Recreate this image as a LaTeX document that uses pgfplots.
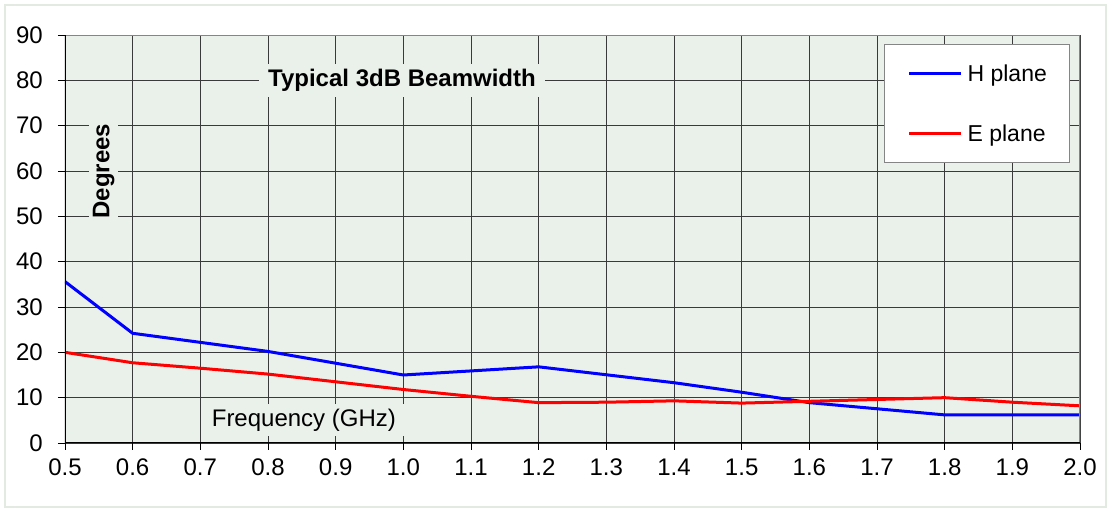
\documentclass[border=0pt]{standalone}
\usepackage{fontspec}
\setmainfont{Liberation Sans}
\usepackage{pgfplots}
\pgfplotsset{compat=1.18}
\definecolor{plotbg}{HTML}{EAF0EA}
\definecolor{borderc}{HTML}{E2EAE2}
\definecolor{gridc}{HTML}{3A3A3A}
\definecolor{frameg}{HTML}{858585}
\newcommand{\tfont}{\fontsize{24}{28}\selectfont}
\begin{document}
\begin{tikzpicture}
\useasboundingbox (-65pt,-68pt) rectangle (1047pt,443pt);
\draw[color=borderc, line width=2pt] (-60pt,-64pt) rectangle (1041pt,438pt);
\begin{axis}[
  scale only axis,
  width=1015pt, height=408pt,
  xmin=0.5, xmax=2.0, ymin=0, ymax=90,
  xtick={0.5,0.6,0.7,0.8,0.9,1.0,1.1,1.2,1.3,1.4,1.5,1.6,1.7,1.8,1.9,2.0},
  xticklabels={0.5,0.6,0.7,0.8,0.9,1.0,1.1,1.2,1.3,1.4,1.5,1.6,1.7,1.8,1.9,2.0},
  ytick={0,10,20,30,40,50,60,70,80,90},
  /pgf/number format/assume math mode=true,
  yticklabel style={anchor=east, inner sep=0pt, xshift=-15pt, font=\tfont},
  xticklabel style={anchor=north, inner sep=0pt, yshift=-9pt, font=\tfont},
  tick align=outside,
  tick pos=left,
  major tick length=7pt,
  major tick style={black, line width=0.8pt},
  grid=major,
  major grid style={color=gridc, line width=0.8pt},
  axis line style={draw=none},
  axis background/.style={fill=plotbg},
  legend style={at={(rel axis cs:0.8069,0.978)}, anchor=north west,
    draw=frameg, line width=1.2pt, fill=white,
    inner xsep=23pt, inner ysep=20pt, row sep=42pt, column sep=5pt,
    nodes={inner sep=0pt, anchor=west, text height=17.25pt, text depth=0.75pt,
      font=\fontsize{23}{27}\selectfont}},
  legend cell align=left,
  legend image code/.code={\draw[#1, line width=3pt] (0pt,0pt) -- (52pt,0pt);},
]
\addplot[blue, line width=3pt] coordinates {
  (0.5,35.6) (0.6,24.2) (0.8,20.2) (1.0,15.0) (1.2,16.8) (1.4,13.3)
  (1.5,11.2) (1.6,8.9) (1.8,6.2) (2.0,6.2)};
\addlegendentry{H plane}
\addplot[red, line width=3pt] coordinates {
  (0.5,20.0) (0.6,17.7) (0.7,16.5) (0.8,15.2) (0.9,13.5) (1.0,11.8)
  (1.1,10.3) (1.2,8.9) (1.3,9.0) (1.4,9.3) (1.5,8.8) (1.6,9.2)
  (1.7,9.6) (1.8,10.0) (1.9,9.0) (2.0,8.2)};
\addlegendentry{E plane}
\draw[frameg, line width=2.5pt] (rel axis cs:0,1) -- (rel axis cs:1,1) -- (rel axis cs:1,0);
\draw[black, line width=1.5pt] (rel axis cs:0,1) -- (rel axis cs:0,0) -- (rel axis cs:1,0);
\node[fill=plotbg, inner xsep=9pt, inner ysep=5pt, font=\bfseries\tfont]
  at (axis cs:0.998,80) {Typical 3dB Beamwidth};
\node[fill=plotbg, inner xsep=5pt, inner ysep=4pt, rotate=90, font=\bfseries\tfont]
  at (axis cs:0.557,60) {Degrees};
\node[fill=plotbg, inner xsep=10pt, inner ysep=5pt, font=\tfont]
  at (axis cs:0.853,5.1) {Frequency (GHz)};
\end{axis}
\end{tikzpicture}
\end{document}
